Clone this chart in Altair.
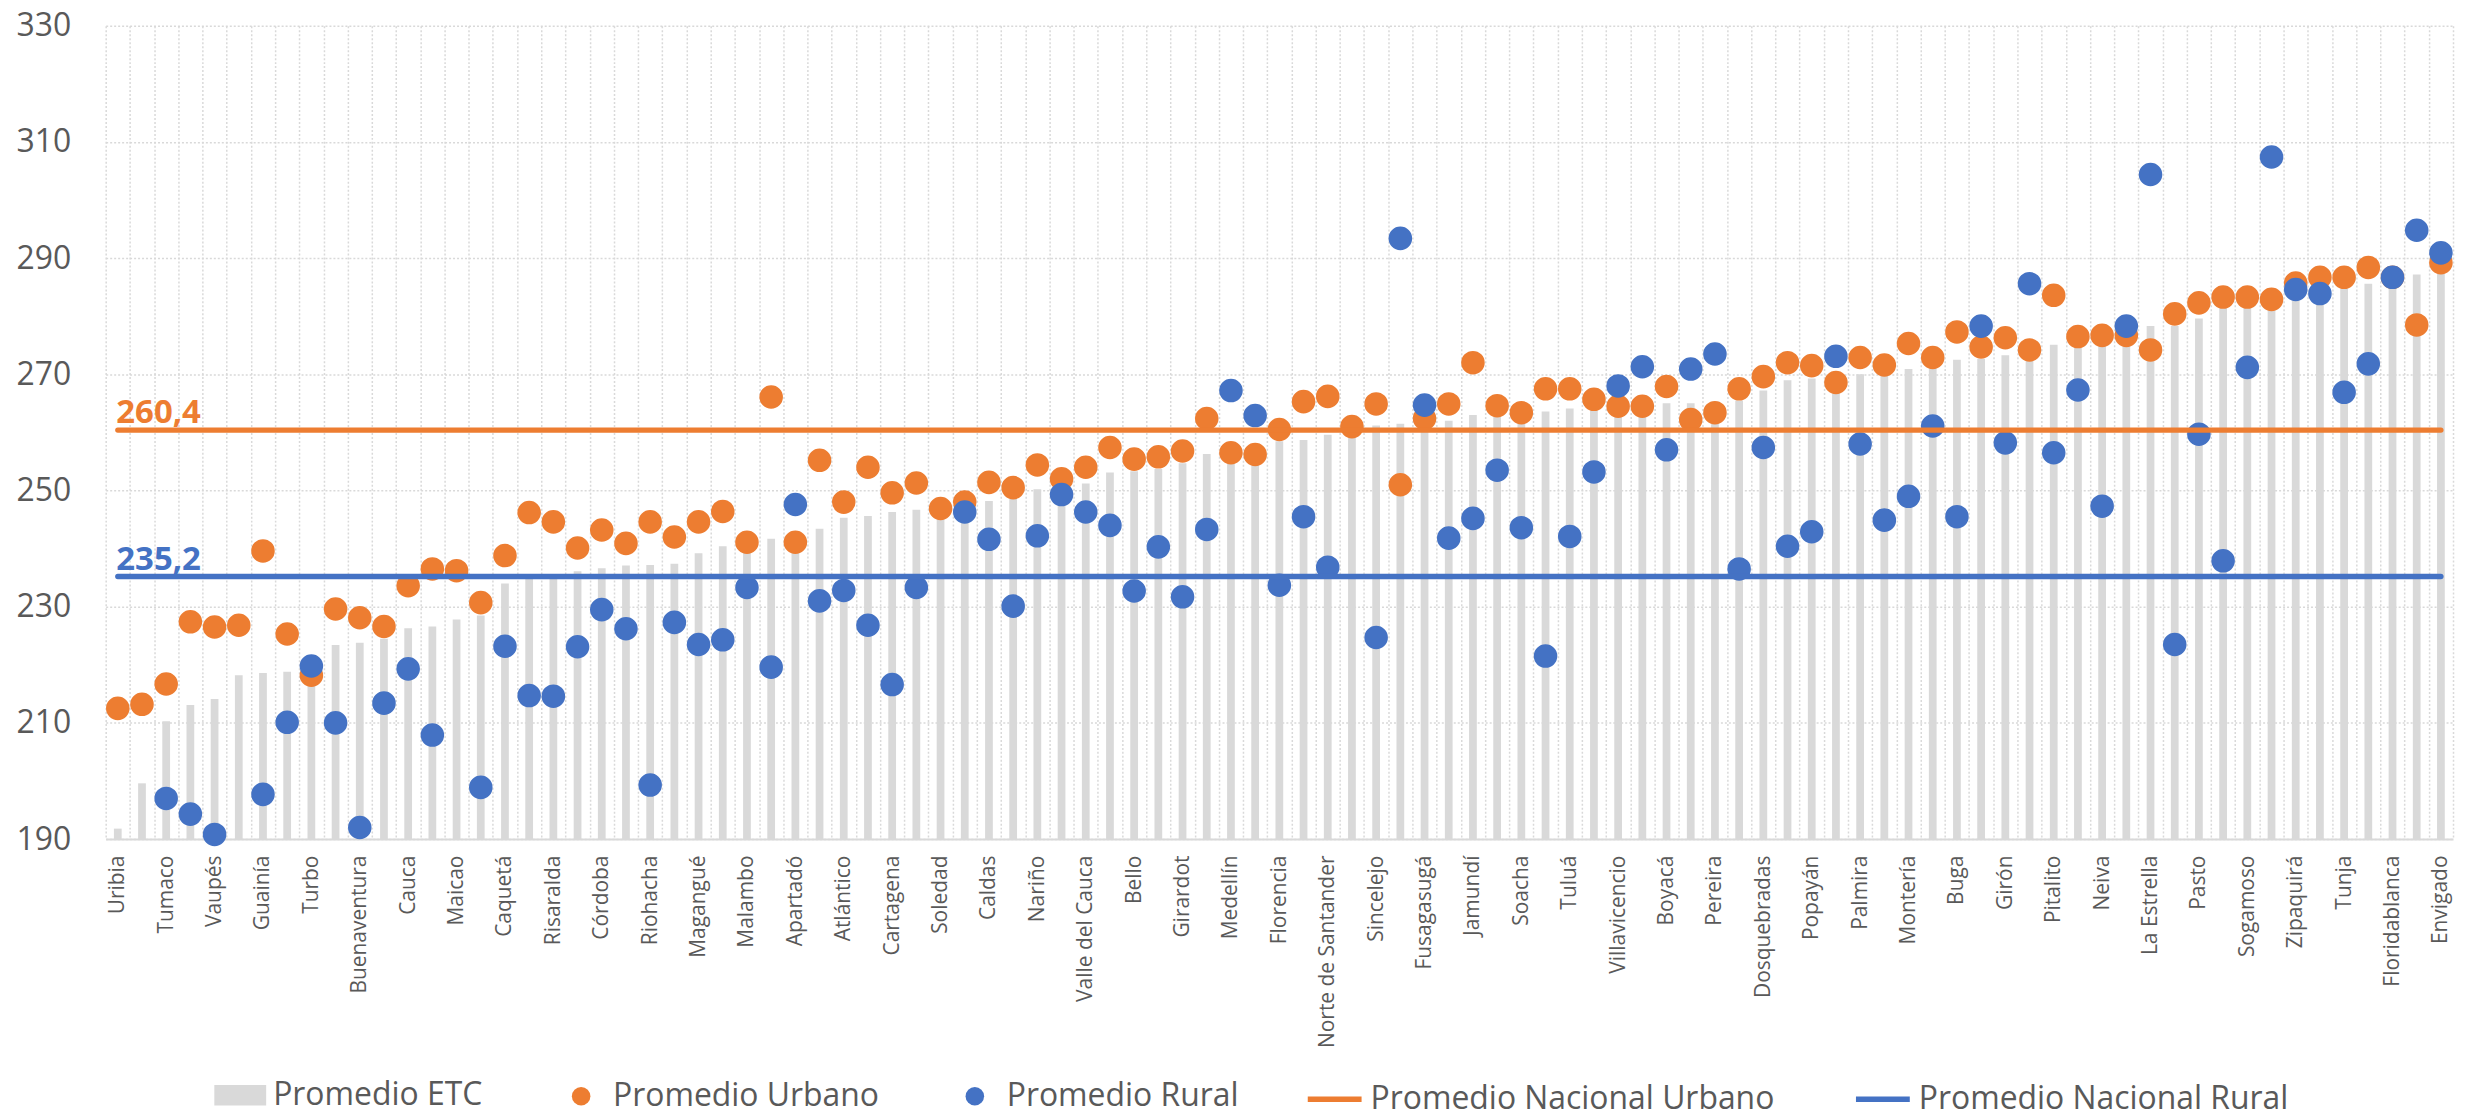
import json
import altair as alt
import pandas as pd

# ---- data ----
label_names = [
    "Uribia", "Tumaco", "Vaupés", "Guainía", "Turbo", "Buenaventura", "Cauca",
    "Maicao", "Caquetá", "Risaralda", "Córdoba", "Riohacha", "Magangué", "Malambo",
    "Apartadó", "Atlántico", "Cartagena", "Soledad", "Caldas", "Nariño",
    "Valle del Cauca", "Bello", "Girardot", "Medellín", "Florencia",
    "Norte de Santander", "Sincelejo", "Fusagasugá", "Jamundí", "Soacha", "Tuluá",
    "Villavicencio", "Boyacá", "Pereira", "Dosquebradas", "Popayán", "Palmira",
    "Montería", "Buga", "Girón", "Pitalito", "Neiva", "La Estrella", "Pasto",
    "Sogamoso", "Zipaquirá", "Tunja", "Floridablanca", "Envigado",
]

promedio_etc = [
    191.8, 199.6, 210.3, 213.1, 214.1, 218.2, 218.6, 218.8, 219.0, 223.4,
    223.8, 224.5, 226.3, 226.6, 227.8, 228.5, 234.0, 235.0, 235.5, 236.1,
    236.6, 237.1, 237.2, 237.4, 239.2, 240.4, 240.8, 241.7, 242.5, 243.4,
    245.3, 245.6, 246.3, 246.7, 246.8, 247.5, 248.2, 248.6, 250.2, 251.0,
    251.2, 253.1, 253.3, 253.7, 254.7, 256.3, 256.5, 257.0, 258.5, 258.7,
    259.6, 260.0, 261.2, 261.5, 261.8, 262.0, 263.0, 263.2, 263.4, 263.6,
    264.1, 264.5, 264.8, 265.0, 265.0, 265.0, 265.3, 265.5, 267.2, 269.0,
    269.3, 269.5, 270.0, 270.3, 270.9, 271.5, 272.5, 272.7, 273.3, 273.8,
    275.1, 275.5, 277.0, 277.5, 278.3, 278.3, 279.6, 281.5, 281.5, 281.8,
    283.4, 284.0, 284.8, 285.6, 286.2, 287.2, 288.1,
]

promedio_urbano = [
    212.5, 213.2, 216.7, 227.4, 226.5, 226.8, 239.6, 225.3, 218.2, 229.6,
    228.1, 226.6, 233.6, 236.5, 236.2, 230.7, 238.8, 246.2, 244.6, 240.1,
    243.2, 240.9, 244.6, 242.0, 244.6, 246.4, 241.1, 266.1, 241.1, 255.2,
    248.0, 254.0, 249.6, 251.3, 246.9, 248.0, 251.4, 250.5, 254.4, 252.0,
    254.0, 257.4, 255.4, 255.8, 256.8, 262.4, 256.5, 256.2, 260.5, 265.3,
    266.2, 261.0, 264.9, 251.0, 262.4, 264.9, 272.0, 264.6, 263.4, 267.5,
    267.5, 265.7, 264.5, 264.5, 267.9, 262.2, 263.4, 267.5, 269.6, 272.0,
    271.5, 268.6, 272.9, 271.6, 275.3, 272.9, 277.3, 274.7, 276.3, 274.2,
    283.6, 276.5, 276.7, 276.7, 274.2, 280.4, 282.3, 283.3, 283.3, 282.9,
    285.7, 286.7, 286.7, 288.4, 286.7, 278.5, 289.2,
]

promedio_rural = [
    None, None, 197.0, 194.3, 190.8, None, 197.7, 210.1, 219.8, 210.0,
    192.0, 213.4, 219.3, 207.9, None, 198.9, 223.2, 214.7, 214.6, 223.1,
    229.5, 226.2, 199.3, 227.3, 223.5, 224.3, 233.3, 219.6, 247.6, 231.0,
    232.8, 226.8, 216.6, 233.3, None, 246.3, 241.6, 230.1, 242.2, 249.3,
    246.3, 244.0, 232.7, 240.3, 231.7, 243.3, 267.2, 262.9, 233.7, 245.5,
    236.8, None, 224.7, 293.4, 264.7, 241.8, 245.2, 253.5, 243.6, 221.5,
    242.1, 253.2, 268.0, 271.3, 257.0, 270.9, 273.5, 236.5, 257.4, 240.4,
    242.9, 273.1, 258.0, 244.9, 249.0, 261.1, 245.5, 278.3, 258.2, 285.6,
    256.5, 267.3, 247.3, 278.3, 304.4, 223.5, 259.7, 237.9, 271.2, 307.4,
    284.6, 283.9, 266.9, 271.8, 286.7, 294.8, 290.9,
]

nacional_urbano = 260.4
nacional_rural = 235.2
nacional_textos = ["260,4", "235,2"]

series_names = ["Promedio ETC", "Promedio Urbano", "Promedio Rural",
                "Promedio Nacional Urbano", "Promedio Nacional Rural"]
ORANGE = "#ED7D31"
BLUE = "#4472C4"
GRAY = "#D9D9D9"
TEXT = "#595959"
FONT = "Open Sans"

n = len(promedio_etc)
labels_full = [label_names[i // 2] if i % 2 == 0 else "" for i in range(n)]
label_expr = json.dumps(labels_full, ensure_ascii=False) + "[datum.value]"

bars_df = pd.DataFrame({"idx": list(range(n)), "valor": promedio_etc,
                        "serie": [series_names[0]] * n})
pts_df = pd.DataFrame({
    "idx": list(range(n)) * 2,
    "valor": promedio_urbano + promedio_rural,
    "serie": [series_names[1]] * n + [series_names[2]] * n,
})
lines_df = pd.DataFrame({
    "idx": list(range(n)) * 2,
    "valor": [nacional_urbano] * n + [nacional_rural] * n,
    "serie": [series_names[3]] * n + [series_names[4]] * n,
})
txt_u = pd.DataFrame({"idx": [0], "valor": [nacional_urbano], "txt": [nacional_textos[0]]})
txt_r = pd.DataFrame({"idx": [0], "valor": [nacional_rural], "txt": [nacional_textos[1]]})

x_enc = alt.X(
    "idx:O",
    scale=alt.Scale(paddingInner=0, paddingOuter=0),
    axis=alt.Axis(
        title=None, labelExpr=label_expr, labelAngle=-90, labelFont=FONT,
        labelFontSize=21, labelColor=TEXT, labelPadding=16, labelOverlap=False,
        labelBound=False, labelLimit=500, ticks=False, domain=True,
        domainColor=GRAY, domainWidth=2, grid=True, gridColor=GRAY,
        gridDash=[2, 2], gridWidth=1.5, tickBand="extent",
    ),
)
y_scale = alt.Scale(domain=[190, 330], nice=False, zero=False)
y_axis = alt.Axis(
    title=None, values=list(range(190, 331, 20)), labelFont=FONT,
    labelFontSize=32, labelColor=TEXT, labelPadding=35, ticks=False,
    domain=False, grid=True, gridColor=GRAY, gridDash=[2, 2], gridWidth=1.5,
)

leg_common = dict(orient="none", direction="horizontal", title=None,
                  labelFont=FONT, labelFontSize=32, labelColor=TEXT,
                  padding=0, symbolOpacity=1, labelLimit=1000)

bars = alt.Chart(bars_df).mark_bar(width={"band": 0.32}).encode(
    x=x_enc,
    y=alt.Y("valor:Q", scale=y_scale, axis=y_axis),
    y2=alt.datum(190),
    fill=alt.Fill("serie:N", scale=alt.Scale(domain=[series_names[0]], range=[GRAY]),
                  legend=alt.Legend(**leg_common, legendX=109, legendY=1047,
                                    symbolType="M-1,-0.4H1V0.4H-1Z",
                                    symbolSize=2704, symbolStrokeWidth=0,
                                    labelOffset=7)),
)

points = alt.Chart(pts_df).transform_filter("isValid(datum.valor)").mark_circle(
    size=558, opacity=1
).encode(
    x=x_enc,
    y=alt.Y("valor:Q", scale=y_scale, axis=y_axis),
    color=alt.Color("serie:N",
                    scale=alt.Scale(domain=series_names[1:3], range=[ORANGE, BLUE]),
                    sort=series_names[1:3],
                    legend=alt.Legend(**leg_common, legendX=461, legendY=1058,
                                      symbolType="circle", symbolSize=346,
                                      symbolStrokeWidth=0, labelOffset=16,
                                      columnPadding=79)),
)

lines = alt.Chart(lines_df).mark_line(strokeWidth=5.3, strokeCap="round").encode(
    x=x_enc,
    y=alt.Y("valor:Q", scale=y_scale, axis=y_axis),
    stroke=alt.Stroke("serie:N",
                      scale=alt.Scale(domain=series_names[3:5], range=[ORANGE, BLUE]),
                      sort=series_names[3:5],
                      legend=alt.Legend(**leg_common, legendX=1203, legendY=1047,
                                        symbolType="stroke", symbolSize=2916,
                                        symbolStrokeWidth=5.3, labelOffset=6,
                                        columnPadding=70)),
)

text_kw = dict(align="left", baseline="alphabetic", dx=-1.5, dy=-7, font=FONT,
               fontSize=33, fontWeight="bold")
text_u = alt.Chart(txt_u).mark_text(color=ORANGE, **text_kw).encode(
    x=x_enc, y=alt.Y("valor:Q", scale=y_scale, axis=y_axis), text="txt:N")
text_r = alt.Chart(txt_r).mark_text(color=BLUE, **text_kw).encode(
    x=x_enc, y=alt.Y("valor:Q", scale=y_scale, axis=y_axis), text="txt:N")

chart = alt.layer(bars, points, lines, text_u, text_r).resolve_scale(
    color="independent", fill="independent", stroke="independent"
).properties(
    width=2355, height=816,
    autosize=alt.AutoSizeParams(type="none"),
    padding={"left": 98, "top": 16, "right": 5, "bottom": 272},
).configure_view(stroke=None)

chart.save("out.html", embed_options={"renderer": "svg", "actions": False})
